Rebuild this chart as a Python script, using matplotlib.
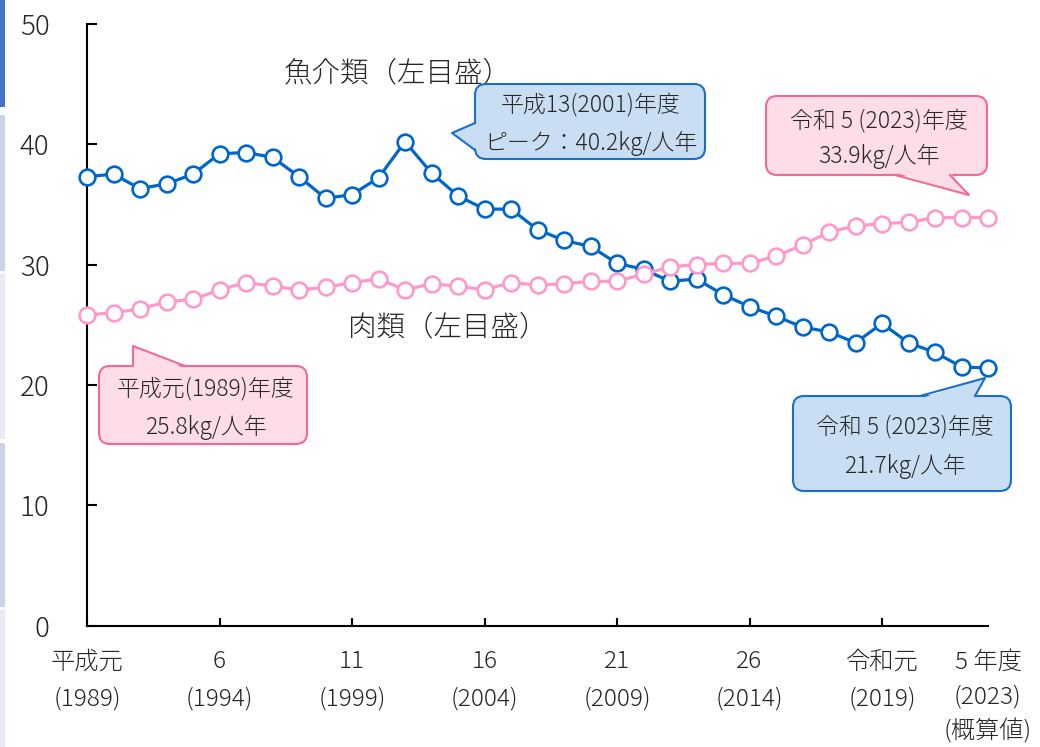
import numpy as np
import matplotlib
matplotlib.use("Agg")
import matplotlib.pyplot as plt
import matplotlib.transforms as mtransforms
from matplotlib.patches import FancyBboxPatch, Polygon, Rectangle
from matplotlib.lines import Line2D

plt.rcParams['font.family'] = ['Noto Sans CJK JP', 'DejaVu Sans']
plt.rcParams['font.weight'] = 'light'

# data (kg per person per year)
years = list(range(1989, 2024))
fish = [37.3, 37.5, 36.3, 36.7, 37.5, 39.2, 39.3, 38.9, 37.3, 35.5,
        35.8, 37.2, 40.2, 37.6, 35.7, 34.6, 34.6, 32.9, 32.0, 31.5,
        30.1, 29.6, 28.6, 28.8, 27.5, 26.5, 25.7, 24.8, 24.4, 23.5,
        25.1, 23.5, 22.7, 21.5, 21.4]
meat = [25.8, 26.0, 26.3, 26.9, 27.1, 27.9, 28.5, 28.2, 27.9, 28.1,
        28.5, 28.8, 27.9, 28.4, 28.2, 27.9, 28.5, 28.3, 28.4, 28.6,
        28.6, 29.2, 29.8, 30.0, 30.1, 30.1, 30.7, 31.6, 32.7, 33.2,
        33.4, 33.5, 33.9, 33.9, 33.9]
tick_years = [1989, 1994, 1999, 2004, 2009, 2014, 2019, 2023]
tick_labels = ["平成元\n(1989)", "6\n(1994)", "11\n(1999)", "16\n(2004)",
               "21\n(2009)", "26\n(2014)", "令和元\n(2019)", "5 年度\n(2023)\n(概算値)"]

W, H = 1040, 747
BLUE = "#0066CC"
PINK = "#FF99CC"
TXT = "#262626"

fig = plt.figure(figsize=(W / 100, H / 100), dpi=100)
ax = fig.add_axes([87 / W, (H - 625.7) / H, (988 - 87) / W, 602 / H])

# pixel coords (y down) for decorations
px = mtransforms.Affine2D().scale(1 / W, -1 / H).translate(0, 1) + fig.transFigure

# side strip
for (y0, y1, c) in [(0, 107, "#4472C4"), (115, 271, "#CDD4EA"), (274, 439, "#E8EBF5"),
                    (443, 607, "#CDD4EA"), (610, 747, "#E8EBF5")]:
    fig.patches.append(Rectangle((0, y0), 5, y1 - y0, transform=px, color=c, lw=0))

ax.plot(years, fish, color=BLUE, lw=2.3, marker="o", ms=11.3, mfc="white",
        mec=BLUE, mew=1.9, clip_on=False, zorder=3)
ax.plot(years, meat, color=PINK, lw=2.3, marker="o", ms=11.3, mfc="white",
        mec=PINK, mew=1.9, clip_on=False, zorder=4)

ax.set_xlim(1989, 2023)
ax.set_ylim(0, 50)
ax.set_yticks([0, 10, 20, 30, 40, 50])
ax.set_xticks(tick_years)
ax.set_xticklabels(tick_labels, linespacing=1.62)
ax.xaxis.get_major_ticks()[-1].tick1line.set_visible(False)
xlabs = ax.get_xticklabels()
xlabs[5].set_transform(xlabs[5].get_transform() + mtransforms.ScaledTranslation(0, 5 / 100, fig.dpi_scale_trans))
xlabs[-1].set_linespacing(1.52)

ax.tick_params(axis="y", direction="in", length=7, width=1.5, pad=27, labelsize=20, labelcolor=TXT)
ax.tick_params(axis="x", direction="in", length=6, width=1.5, pad=17, labelsize=17.5, labelcolor=TXT)
for s in ["top", "right"]:
    ax.spines[s].set_visible(False)
for s in ["left", "bottom"]:
    ax.spines[s].set_linewidth(1.5)
    ax.spines[s].set_color("black")


def callout(box, b1, b2, tip, inward, face, edge, lines, ys, cx):
    x0, y0, x1, y1 = box
    fig.patches.append(FancyBboxPatch((x0, y0), x1 - x0, y1 - y0,
                                      boxstyle="round,pad=0,rounding_size=11",
                                      transform=px, fc=face, ec=edge, lw=1.5, zorder=5))
    dx, dy = inward[0] * 2.5, inward[1] * 2.5
    fig.patches.append(Polygon([(b1[0] + dx, b1[1] + dy), tip, (b2[0] + dx, b2[1] + dy)],
                               closed=True, transform=px, fc=face, ec="none", zorder=6))
    fig.lines.append(Line2D([b1[0], tip[0], b2[0]], [b1[1], tip[1], b2[1]],
                            transform=px, color=edge, lw=1.5, zorder=7))
    for t, y in zip(lines, ys):
        fig.text(cx, y, t, transform=px, ha="center", va="center",
                 fontsize=16.5, color=TXT, zorder=8)


BFACE, BEDGE = "#C9DEF3", "#1A6FC9"
PFACE, PEDGE = "#FFDDE8", "#F4689A"

callout((475, 84, 705, 159), (475, 123), (475, 150), (452, 133), (1, 0), BFACE, BEDGE,
        ["平成13(2001)年度", "ピーク：40.2kg/人年"], [105, 143], 591)
callout((766, 96, 987, 175), (895, 175), (950, 175), (969, 195), (0, -1), PFACE, PEDGE,
        ["令和 5 (2023)年度", "33.9kg/人年"], [121, 156], 879)
callout((99, 366, 307, 444), (133, 366), (185, 366), (133, 346), (0, 1), PFACE, PEDGE,
        ["平成元(1989)年度", "25.8kg/人年"], [389, 427], 206)
callout((793, 396, 1011, 491), (920, 396), (975, 396), (985, 378), (0, 1), BFACE, BEDGE,
        ["令和 5 (2023)年度", "21.7kg/人年"], [427, 466], 905)

fig.text(398, 73, "魚介類（左目盛）", transform=px, ha="center", va="center", fontsize=20.5, color=TXT)
fig.text(448, 327, "肉類（左目盛）", transform=px, ha="center", va="center", fontsize=20.5, color=TXT)

fig.savefig("out.png", dpi=100)
